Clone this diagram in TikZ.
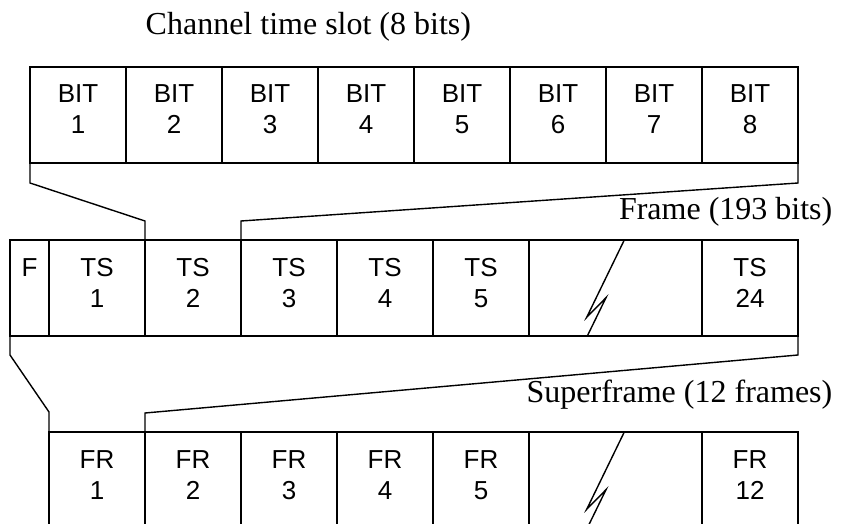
\documentclass[tikz,border=0pt]{standalone}
\usepackage{fontspec}
\setmainfont{Liberation Serif}
\setsansfont{Liberation Sans}
\begin{document}
\begin{tikzpicture}[x=1pt, y=-1pt, line width=1.4pt,
  cell/.style={draw, minimum width=96pt, minimum height=96pt, inner sep=0pt,
               outer sep=0pt, anchor=north west},
  cellnum/.style={font=\sffamily\fontsize{26}{31}\selectfont, align=center,
                  anchor=base, inner sep=0pt},
  title/.style={font=\fontsize{32}{38}\selectfont, inner sep=0pt}]
\clip (0,0) rectangle (841,524);

% channel time slot: eight bits (base anchor sits on the last line)
\foreach \i in {1,...,8} {
  \node[cell] (b\i) at ({30+96*(\i-1)},67) {};
  \node[cellnum] at ([yshift=-67pt]b\i.north) {BIT\\\i};
}

% frame: framing bit, time slots, gap, last slot
\node[cell, minimum width=39pt] (f) at (10,240) {};
\node[cellnum] at ([yshift=-36pt]f.north) {F};
\foreach \k in {1,...,5} {
  \node[cell] (ts\k) at ({49+96*(\k-1)},240) {};
  \node[cellnum] at ([yshift=-67pt]ts\k.north) {TS\\\k};
}
\node[cell, minimum width=173pt] (tsgap) at (529,240) {};
\node[cell] (ts24) at (702,240) {};
\node[cellnum] at ([yshift=-67pt]ts24.north) {TS\\24};

% superframe: frames, gap, last frame
\foreach \k in {1,...,5} {
  \node[cell] (fr\k) at ({49+96*(\k-1)},432) {};
  \node[cellnum] at ([yshift=-67pt]fr\k.north) {FR\\\k};
}
\node[cell, minimum width=173pt] (frgap) at (529,432) {};
\node[cell] (fr12) at (702,432) {};
\node[cellnum] at ([yshift=-67pt]fr12.north) {FR\\12};

% break marks in the gap cells
\foreach \g in {tsgap, frgap}
  \draw ([xshift=95.3pt]\g.north west) -- ++(-37.6,77.3) -- ++(19.3,-19.6)
        -- ([xshift=58.3pt]\g.south west);

% expansion brackets
\draw (b1.south west) -- ++(0,20) -- ([yshift=19pt]ts2.north west) -- (ts2.north west);
\draw (b8.south east) -- ++(0,20) -- ([yshift=19pt]ts3.north west) -- (ts3.north west);
\draw (f.south west) -- ++(0,19) -- ([yshift=20pt]fr1.north west) -- (fr1.north west);
\draw (ts24.south east) -- ++(0,19) -- ([yshift=19pt]fr2.north west) -- (fr2.north west);

% titles
\node[title, anchor=base west] (chan) at (145,35) {Channel time slot (8 bits)};
\node[title, anchor=base east] (frm) at (833,219) {Frame (193 bits)};
\node[title, anchor=base east] (sup) at (833,402) {Superframe (12 frames)};
\end{tikzpicture}
\end{document}
